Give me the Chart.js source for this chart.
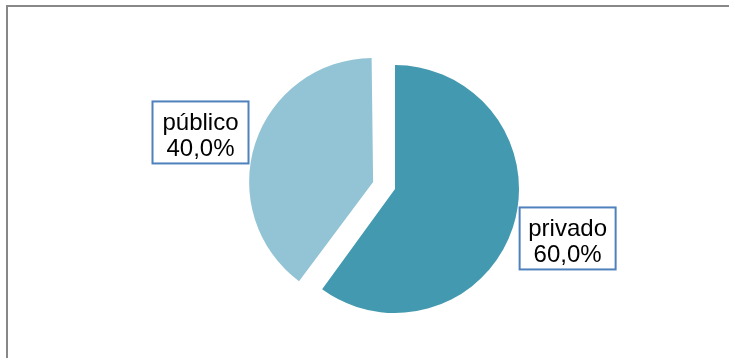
<!DOCTYPE html>
<html><head><meta charset="utf-8">
<script src="https://cdn.jsdelivr.net/npm/chart.js@4"></script>
<style>
html,body{margin:0;padding:0;background:#fff;}
#wrap{position:relative;width:729px;height:358px;overflow:hidden;background:#fff;}
#frame{position:absolute;left:6px;top:5px;width:800px;height:400px;border:2px solid #888888;box-sizing:border-box;}
#c{position:absolute;left:0;top:0;}
</style></head><body>
<div id="wrap"><div id="frame"></div><canvas id="c" width="729" height="358"></canvas></div>
<script>
const categories = ['privado', 'público'];
const values = [60, 40];
const percentLabels = ['60,0%', '40,0%'];
const sliceColors = ['#4399AF', '#93C4D5'];
const sliceOffsets = [0, 92];

// Chart.js enlarges exploded slices a bit; undo that so both slices share the same radius
const keepRadius = {
  id: 'keepRadius',
  afterDatasetsUpdate(chart) {
    chart.getDatasetMeta(0).data.forEach((arc, i) => {
      const off = (sliceOffsets[i] || 0) / 4;
      const fix = 1 - Math.sin(Math.min(Math.PI, arc.circumference));
      arc.outerRadius -= off * fix;
    });
  }
};

const boxLabels = {
  id: 'boxLabels',
  afterDatasetsDraw(chart) {
    const ctx = chart.ctx;
    const meta = chart.getDatasetMeta(0);
    meta.data.forEach((arc, i) => {
      const h = (arc.startAngle + arc.endAngle) / 2;
      const off = (sliceOffsets[i] || 0) / 4;
      const cx = arc.x + Math.cos(h) * off;
      const cy = arc.y + Math.sin(h) * off;
      const bx = cx + Math.cos(h) * 181.5;
      const by = cy + Math.sin(h) * 160;
      const w = 96, hgt = 62;
      ctx.save();
      ctx.fillStyle = '#ffffff';
      ctx.fillRect(bx - w / 2, by - hgt / 2, w, hgt);
      ctx.strokeStyle = '#4F81BD';
      ctx.lineWidth = 2;
      ctx.strokeRect(bx - w / 2, by - hgt / 2, w, hgt);
      ctx.fillStyle = '#000000';
      ctx.font = '24px "Liberation Sans", Arial, sans-serif';
      ctx.textAlign = 'center';
      ctx.textBaseline = 'alphabetic';
      ctx.fillText(categories[i], bx, by - 2);
      ctx.fillText(percentLabels[i], bx, by + 24);
      ctx.restore();
    });
  }
};

new Chart(document.getElementById('c'), {
  type: 'pie',
  data: {
    labels: categories,
    datasets: [{
      data: values,
      backgroundColor: sliceColors,
      borderWidth: 0,
      offset: sliceOffsets,
      hoverOffset: 0,
      radius: 124
    }]
  },
  options: {
    responsive: false,
    animation: false,
    events: [],
    layout: { padding: { left: 61, right: 0, top: 20, bottom: 0 } },
    plugins: { legend: { display: false }, tooltip: { enabled: false } }
  },
  plugins: [keepRadius, boxLabels]
});
</script>
</body></html>
